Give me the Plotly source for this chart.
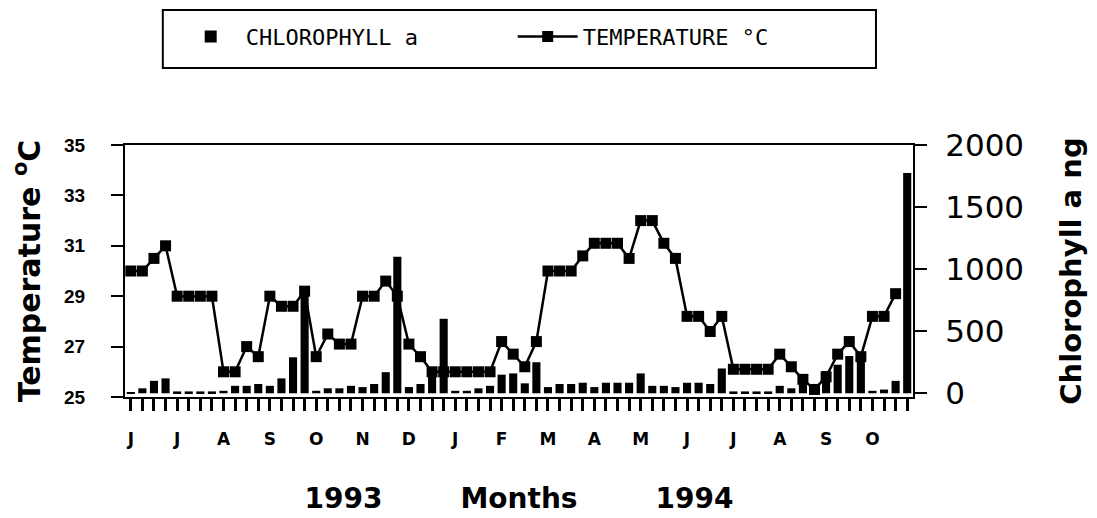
import plotly.graph_objects as go

# ---- data (weekly samples, June 1993 - October 1994) ----
weeks = list(range(68))
temperature = [30.0, 30.0, 30.5, 31.0, 29.0, 29.0, 29.0, 29.0, 26.0, 26.0,
               27.0, 26.6, 29.0, 28.6, 28.6, 29.2, 26.6, 27.5, 27.1, 27.1,
               29.0, 29.0, 29.6, 29.0, 27.1, 26.6, 26.0, 26.0, 26.0, 26.0,
               26.0, 26.0, 27.2, 26.7, 26.2, 27.2, 30.0, 30.0, 30.0, 30.6,
               31.1, 31.1, 31.1, 30.5, 32.0, 32.0, 31.1, 30.5, 28.2, 28.2,
               27.6, 28.2, 26.1, 26.1, 26.1, 26.1, 26.7, 26.2, 25.7, 25.3,
               25.8, 26.7, 27.2, 26.6, 28.2, 28.2, 29.1, None]
chlorophyll = [10, 40, 100, 120, 15, 15, 15, 15, 20, 60,
               60, 75, 60, 120, 290, 850, 20, 40, 40, 60,
               50, 75, 170, 1100, 50, 75, 200, 600, 20, 20,
               40, 60, 150, 160, 80, 250, 50, 75, 75, 85,
               50, 85, 85, 85, 160, 60, 60, 50, 85, 85,
               75, 200, 15, 15, 15, 15, 60, 40, 80, 60,
               180, 230, 300, 280, 20, 30, 100, 1775]
month_labels = ["J", "J", "A", "S", "O", "N", "D", "J", "F", "M",
                "A", "M", "J", "J", "A", "S", "O"]
month_weeks = [4 * i for i in range(len(month_labels))]
temp_ticks = [25, 27, 29, 31, 33, 35]
chl_ticks = [0, 500, 1000, 1500, 2000]

fig = go.Figure()
fig.add_trace(go.Bar(
    x=weeks, y=chlorophyll, name="CHLOROPHYLL a", yaxis="y2",
    width=0.7, marker=dict(color="black", line=dict(width=0)),
))
fig.add_trace(go.Scatter(
    x=weeks, y=temperature, name="TEMPERATURE °C", yaxis="y",
    mode="lines+markers",
    line=dict(color="black", width=2.5),
    marker=dict(symbol="square", size=11, color="black"),
))

bold = "DejaVu Sans"
nb = "\u00a0" * 8
# the page body adds an 8 px offset, so the figure is 8 px smaller
fig.update_layout(
    width=1089, height=510,
    margin=dict(l=117, r=184, t=137, b=121, autoexpand=False),
    plot_bgcolor="white", paper_bgcolor="white",
    showlegend=True,
    legend=dict(
        orientation="h", x=0.492, xanchor="center", y=1.43, yanchor="middle",
        borderwidth=0, bgcolor="rgba(0,0,0,0)",
        font=dict(family="DejaVu Sans Mono", size=22, color="black"),
        itemwidth=60, entrywidth=262, entrywidthmode="pixels",
        traceorder="normal",
    ),
    shapes=[dict(type="rect", xref="paper", yref="paper",
                 x0=0.048, x1=0.953, y0=1.306, y1=1.536,
                 line=dict(color="black", width=2), fillcolor="rgba(0,0,0,0)",
                 layer="above")],
    xaxis=dict(
        range=[-0.5, 67.5], automargin=False,
        tickvals=month_weeks, ticktext=month_labels,
        ticks="outside", ticklen=12, tickwidth=3, tickcolor="black",
        minor=dict(dtick=1, tick0=0, ticks="outside", ticklen=12,
                   tickwidth=3, tickcolor="black"),
        ticklabelstandoff=14,
        tickfont=dict(family=bold, size=17, color="black", weight="bold"),
        showline=True, linecolor="black", linewidth=2, mirror=True,
        showgrid=False, zeroline=False,
        title=dict(text="1993" + nb + "Months" + nb + "1994",
                   font=dict(family=bold, size=28, color="black", weight="bold"),
                   standoff=40),
    ),
    yaxis=dict(
        range=[25, 35], tickvals=temp_ticks, automargin=False,
        ticks="outside", ticklen=12, tickwidth=2, tickcolor="black",
        ticklabelstandoff=22,
        tickfont=dict(family="Liberation Sans", size=19, color="black", weight="bold"),
        showline=True, linecolor="black", linewidth=2,
        showgrid=False, zeroline=False,
        title=dict(text="Temperature <sup>o</sup>C",
                   font=dict(family=bold, size=30, color="black", weight="bold"),
                   standoff=18),
    ),
    yaxis2=dict(
        range=[-30, 2000], tickvals=chl_ticks, automargin=False,
        overlaying="y", side="right",
        ticks="outside", ticklen=12, tickwidth=2, tickcolor="black",
        ticklabelstandoff=12,
        tickfont=dict(family="DejaVu Sans", size=31, color="black"),
        showline=True, linecolor="black", linewidth=2,
        showgrid=False, zeroline=False,
        title=dict(text="Chlorophyll a ng",
                   font=dict(family=bold, size=29, color="black", weight="bold"),
                   standoff=38),
    ),
    bargap=0.3,
)

fig.write_html("out.html")
